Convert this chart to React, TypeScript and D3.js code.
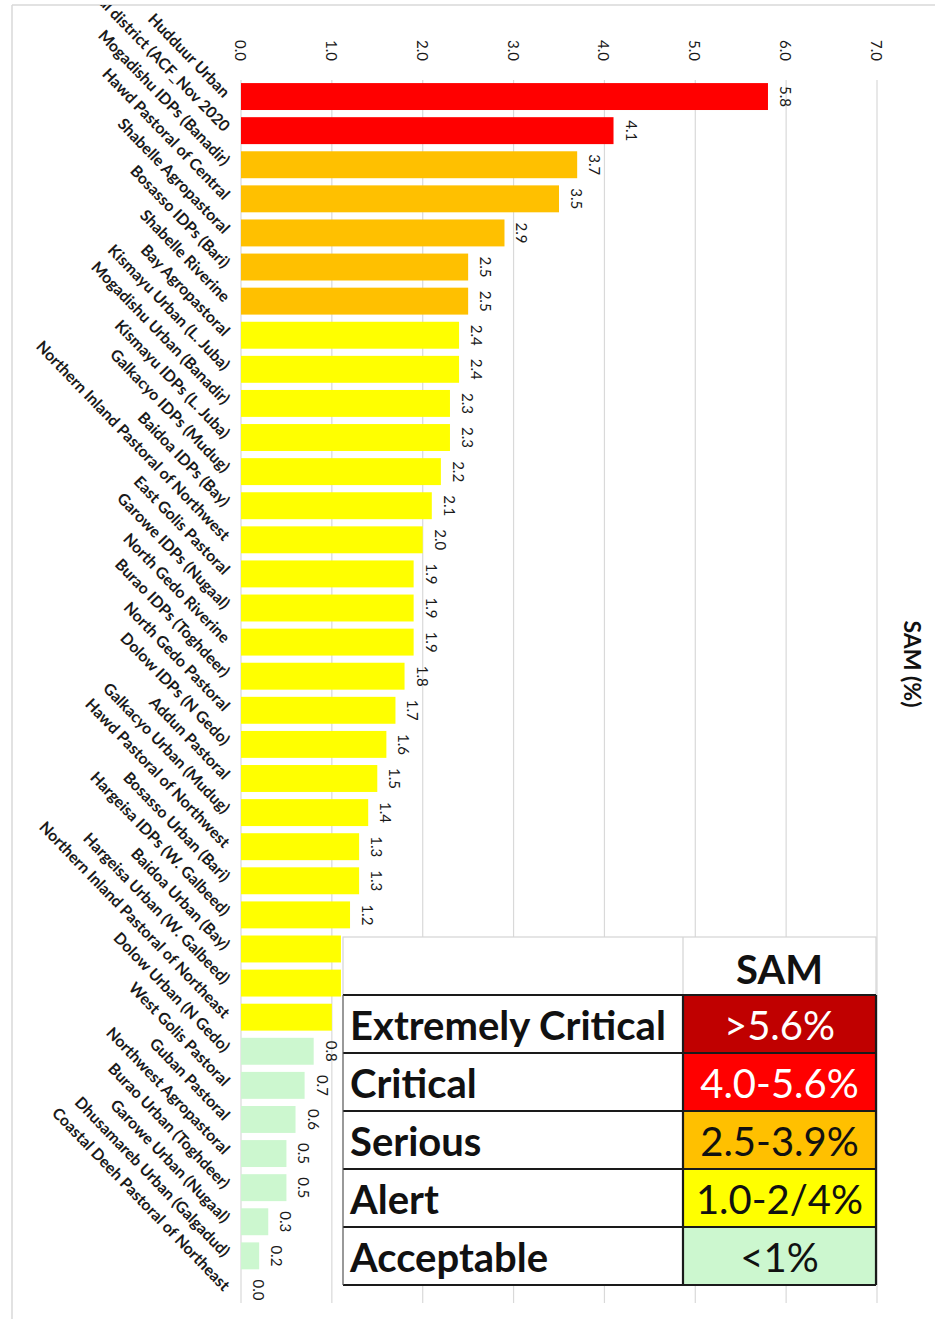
import * as d3 from 'd3';

const categories = [
  'Hudduur Urban',
  'Hudduur rural district (ACF_Nov 2020',
  'Mogadishu IDPs (Banadir)',
  'Hawd Pastoral of Central',
  'Shabelle Agropastoral',
  'Bosasso IDPs (Bari)',
  'Shabelle Riverine',
  'Bay Agropastoral',
  'Kismayu Urban (L. Juba)',
  'Mogadishu Urban (Banadir)',
  'Kismayu IDPs (L. Juba)',
  'Galkacyo IDPs (Mudug)',
  'Baidoa IDPs (Bay)',
  'Northern Inland Pastoral of Northwest',
  'East Golis Pastoral',
  'Garowe IDPs (Nugaal)',
  'North Gedo Riverine',
  'Burao IDPs (Toghdeer)',
  'North Gedo Pastoral',
  'Dolow IDPs  (N Gedo)',
  'Addun Pastoral',
  'Galkacyo Urban (Mudug)',
  'Hawd Pastoral of Northwest',
  'Bosasso Urban (Bari)',
  'Hargeisa IDPs (W. Galbeed)',
  'Baidoa Urban (Bay)',
  'Hargeisa Urban (W. Galbeed)',
  'Northern Inland Pastoral of Northeast',
  'Dolow Urban  (N Gedo)',
  'West Golis Pastoral',
  'Guban Pastoral',
  'Northwest Agropastoral',
  'Burao Urban (Toghdeer)',
  'Garowe Urban (Nugaal)',
  'Dhusamareb Urban (Galgadud)',
  'Coastal Deeh Pastoral of Northeast',
];

const samValues = [
  5.8, 4.1, 3.7, 3.5, 2.9, 2.5, 2.5, 2.4, 2.4, 2.3, 2.3, 2.2, 2.1, 2.0, 1.9, 1.9, 1.9, 1.8,
  1.7, 1.6, 1.5, 1.4, 1.3, 1.3, 1.2, 1.1, 1.1, 1.0, 0.8, 0.7, 0.6, 0.5, 0.5, 0.3, 0.2, 0.0,
];

const tickValues = [0, 1, 2, 3, 4, 5, 6, 7];

const legendLevels = ['Extremely Critical', 'Critical', 'Serious', 'Alert', 'Acceptable'];
const legendRanges = ['>5.6%', '4.0-5.6%', '2.5-3.9%', '1.0-2/4%', '<1%'];
const legendColors = ['#C00000', '#FF0000', '#FFC000', '#FFFF00', '#CCF7CF'];
const legendTextColors = ['#ffffff', '#ffffff', '#111111', '#111111', '#111111'];

const barThresholds = [1.0, 2.5, 4.0];
const barColors = ['#CCF7CF', '#FFFF00', '#FFC000', '#FF0000'];

const width = 935;
const height = 1319;
const font = 'Lato, "Open Sans", sans-serif';

const App = () => {
  const xScale = d3.scaleLinear().domain([0, 7]).range([241, 877]);
  const yScale = d3
    .scaleBand<string>()
    .domain(categories)
    .range([79.5, 1307])
    .paddingInner(0.21)
    .paddingOuter(0.105);
  const colorScale = d3.scaleThreshold<number, string>().domain(barThresholds).range(barColors);

  const table = { x0: 343, x1: 683, x2: 876, top: 937, headerH: 58, rowH: 58 };

  return (
    <svg
      width={width}
      height={height}
      viewBox={`0 0 ${width} ${height}`}
      style={{ position: 'absolute', left: 0, top: 0, background: '#fff' }}
    >
      <defs>
        <clipPath id="frame-clip">
          <rect x={12} y={5} width={width - 12} height={height - 5} />
        </clipPath>
      </defs>
      {/* chart frame */}
      <line x1={12} y1={5} x2={width} y2={5} stroke="#d9d9d9" strokeWidth={1.5} />
      <line x1={12} y1={5} x2={12} y2={height} stroke="#d9d9d9" strokeWidth={1.5} />

      {/* grid */}
      {tickValues.map(t => (
        <g key={t}>
          <line
            x1={xScale(t)}
            x2={xScale(t)}
            y1={80}
            y2={1303}
            stroke="#d9d9d9"
            strokeWidth={1.2}
          />
          <text
            transform={`translate(${xScale(t)}, 40) rotate(90)`}
            dominantBaseline="central"
            fontFamily={font}
            fontSize={15}
            fill="#1a1a1a"
          >
            {t.toFixed(1)}
          </text>
        </g>
      ))}

      {/* bars */}
      {categories.map((c, i) => {
        const y = yScale(c) || 0;
        const v = samValues[i];
        return (
          <g key={c}>
            <rect
              x={xScale(0)}
              y={y}
              width={xScale(v) - xScale(0)}
              height={yScale.bandwidth()}
              fill={colorScale(v)}
            />
            <text
              transform={`translate(${xScale(v) + 18}, ${y + yScale.bandwidth() / 2}) rotate(90)`}
              textAnchor="middle"
              dominantBaseline="central"
              fontFamily={font}
              fontSize={15}
              fill="#1a1a1a"
            >
              {v.toFixed(1)}
            </text>
          </g>
        );
      })}

      {/* category labels */}
      <g clipPath="url(#frame-clip)">
        {categories.map(c => (
          <text
            key={c}
            transform={`translate(223, ${(yScale(c) || 0) + yScale.bandwidth() / 2 + 2}) rotate(46)`}
            textAnchor="end"
            fontFamily={font}
            fontSize={15.8}
            fontWeight={700}
            fill="#1a1a1a"
          >
            {c}
          </text>
        ))}
      </g>

      {/* axis title */}
      <text
        transform="translate(913, 664) rotate(90)"
        textAnchor="middle"
        dominantBaseline="central"
        fontFamily={font}
        fontSize={23}
        fontWeight={700}
        fill="#111"
      >
        SAM (%)
      </text>

      {/* legend table */}
      <g>
        <rect
          x={table.x0}
          y={table.top}
          width={table.x2 - table.x0}
          height={table.headerH + legendLevels.length * table.rowH}
          fill="#fff"
        />
        <rect
          x={table.x0}
          y={table.top}
          width={table.x2 - table.x0}
          height={table.headerH}
          fill="none"
          stroke="#d4d4d4"
          strokeWidth={1.2}
        />
        <line
          x1={table.x1}
          x2={table.x1}
          y1={table.top}
          y2={table.top + table.headerH}
          stroke="#d4d4d4"
          strokeWidth={1.2}
        />
        <text
          x={(table.x1 + table.x2) / 2}
          y={table.top + 47}
          textAnchor="middle"
          fontFamily={font}
          fontSize={40}
          fontWeight={700}
          fill="#111"
        >
          SAM
        </text>
        {legendLevels.map((lvl, i) => {
          const y = table.top + table.headerH + i * table.rowH;
          return (
            <g key={lvl}>
              <rect
                x={table.x1}
                y={y}
                width={table.x2 - table.x1}
                height={table.rowH}
                fill={legendColors[i]}
              />
              <text
                x={table.x0 + 7}
                y={y + 45}
                fontFamily={font}
                fontSize={40}
                fontWeight={700}
                fill="#111"
              >
                {lvl}
              </text>
              <text
                x={(table.x1 + table.x2) / 2}
                y={y + 45}
                textAnchor="middle"
                fontFamily={font}
                fontSize={40}
                fill={legendTextColors[i]}
              >
                {legendRanges[i]}
              </text>
            </g>
          );
        })}
        {d3.range(legendLevels.length + 1).map(i => (
          <line
            key={i}
            x1={table.x0}
            x2={table.x2}
            y1={table.top + table.headerH + i * table.rowH}
            y2={table.top + table.headerH + i * table.rowH}
            stroke="#1a1a1a"
            strokeWidth={2.2}
          />
        ))}
        {[table.x0, table.x1, table.x2].map(x => (
          <line
            key={x}
            x1={x}
            x2={x}
            y1={table.top + table.headerH}
            y2={table.top + table.headerH + legendLevels.length * table.rowH}
            stroke={x === table.x0 ? '#555' : '#1a1a1a'}
            strokeWidth={x === table.x0 ? 1.2 : 2.2}
          />
        ))}
      </g>
    </svg>
  );
};

export default App;
